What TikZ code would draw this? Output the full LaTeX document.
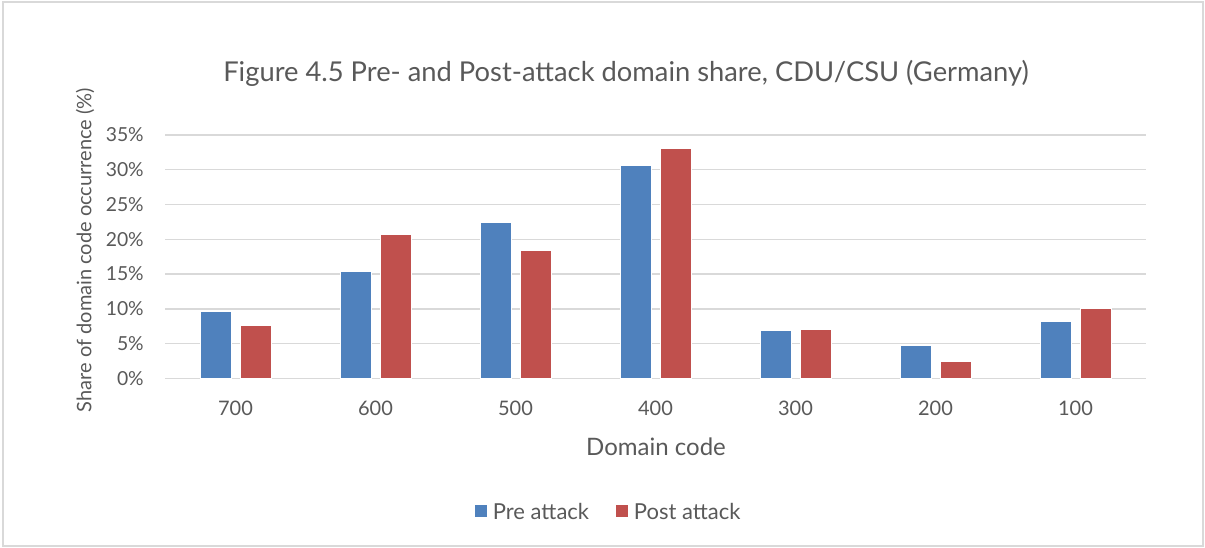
\documentclass[tikz,border=0pt]{standalone}
\usepackage{fontspec}
\setmainfont{Lato}
\usetikzlibrary{positioning}
\definecolor{preblue}{HTML}{4F81BD}
\definecolor{postred}{HTML}{C0504D}
\definecolor{gridgray}{HTML}{D9D9D9}
\definecolor{textgray}{HTML}{595959}
\tikzset{
  lbl/.style={text=textgray,inner sep=0pt},
  gridln/.style={draw=gridgray,line width=1.1pt},
  prebar/.style={fill=preblue,draw=white,line width=0.4pt},
  postbar/.style={fill=postred,draw=white,line width=0.4pt},
  keybox/.style={minimum size=9pt,inner sep=0pt}
}
\begin{document}
\begin{tikzpicture}[x=0.75pt,y=-0.75pt]
    \useasboundingbox (0,0) rectangle (1205,548);
    \draw[gridgray,line width=0.9pt] (3,2) rectangle (1203,546);
    \node[lbl,font=\fontsize{20.5}{24}\selectfont] (title) at (626,73) {Figure 4.5 Pre- and Post-attack domain share, CDU/CSU (Germany)};
    % gridlines and ticks
    \foreach \v in {0,5,...,35} {
      \draw[gridln] (165,{378.3-\v*6.952}) -- (1146,{378.3-\v*6.952});
      \node[lbl,anchor=east,font=\fontsize{14.5}{17}\selectfont] (yt\v) at (144,{378.3-\v*6.952}) {\v\%};
    }
    % bars
    \foreach \pre/\post [count=\i from 0] in {9.7/7.7,15.4/20.7,22.5/18.45,30.7/33.1,6.85/7.05,4.7/2.45,8.25/10.1} {
      \fill[prebar] ({200+140*\i},378.3) rectangle ({231+140*\i},{378.3-\pre*6.952});
      \fill[postbar] ({240+140*\i},378.3) rectangle ({271+140*\i},{378.3-\post*6.952});
    }
    \foreach \c [count=\i from 0] in {700,600,500,400,300,200,100}
      \node[lbl,font=\fontsize{15}{18}\selectfont] (x\c) at ({235.5+140*\i},408) {\c};
    \node[lbl,font=\fontsize{18}{21}\selectfont] (xtitle) at (656,447) {Domain code};
    \node[lbl,rotate=90,font=\fontsize{15}{18}\selectfont] (ytitle) at (85,250) {Share of domain code occurrence (\%)};
    % legend
    \node[keybox,fill=preblue] (prekey) at (481,511) {};
    \node[lbl,right=4pt of prekey,font=\fontsize{16.5}{19}\selectfont] (pretxt) {Pre attack};
    \node[keybox,fill=postred] (postkey) at (622,511) {};
    \node[lbl,right=4pt of postkey,font=\fontsize{16.5}{19}\selectfont] (posttxt) {Post attack};
\end{tikzpicture}
\end{document}
